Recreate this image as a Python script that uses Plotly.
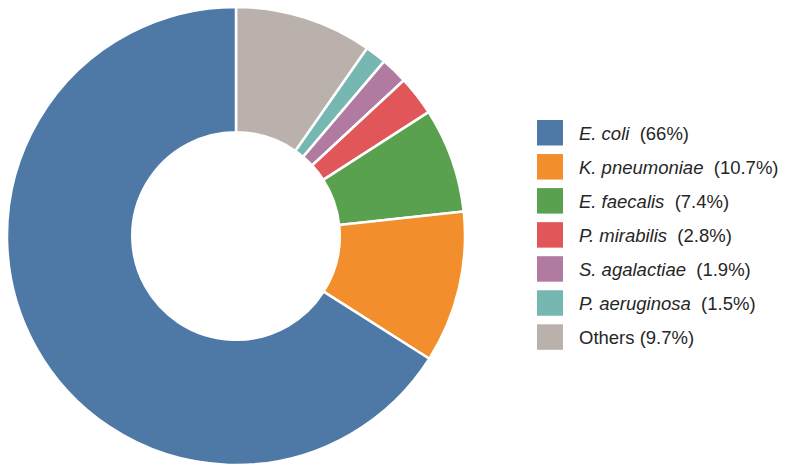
import plotly.graph_objects as go

names = ["E. coli", "K. pneumoniae", "E. faecalis", "P. mirabilis",
         "S. agalactiae", "P. aeruginosa", "Others"]
italic = [True, True, True, True, True, True, False]
values = [66, 10.7, 7.4, 2.8, 1.9, 1.5, 9.7]
colors = ["#4E79A7", "#F28E2B", "#59A14F", "#E15759", "#B07AA1", "#76B7B2", "#BAB0AC"]

W, H = 787, 473

def lab(n, v, it):
    vs = f"{v:g}%"
    if it:
        return f"<i>{n}</i>\u00a0 ({vs})"
    return f"{n} ({vs})"

labels = [lab(n, v, it) for n, v, it in zip(names, values, italic)]

# slices run counter-clockwise from 12 o'clock in the reference:
# draw clockwise with the order reversed
cx, cy, r = 236, 236, 229
fig = go.Figure(go.Pie(
    labels=labels[::-1], values=values[::-1], sort=False, direction="clockwise",
    rotation=0, hole=0.453, textinfo="none", hoverinfo="label",
    marker=dict(colors=colors[::-1], line=dict(color="white", width=2.5)),
    domain=dict(x=[(cx - r) / W, (cx + r) / W], y=[1 - (cy + r) / H, 1 - (cy - r) / H]),
    showlegend=False,
))

shapes, annotations = [], []
x0, y0, sw, sh, step = 537, 120, 26, 25.5, 34.05
for i, (lb, c) in enumerate(zip(labels, colors)):
    top = y0 + i * step
    shapes.append(dict(type="rect", xref="paper", yref="paper",
                       x0=x0 / W, x1=(x0 + sw) / W,
                       y0=1 - (top + sh) / H, y1=1 - top / H,
                       fillcolor=c, line=dict(width=0)))
    annotations.append(dict(xref="paper", yref="paper", x=577 / W,
                            y=1 - (top + sh / 2 + 0.5) / H, text=lb, showarrow=False,
                            xanchor="left", yanchor="middle",
                            font=dict(size=18.5, color="#262626")))

fig.update_layout(
    width=W, height=H, margin=dict(l=0, r=0, t=0, b=0),
    paper_bgcolor="white", plot_bgcolor="white",
    font=dict(family="Arial, 'Liberation Sans', sans-serif"),
    shapes=shapes, annotations=annotations,
)
fig.write_html("out.html")
